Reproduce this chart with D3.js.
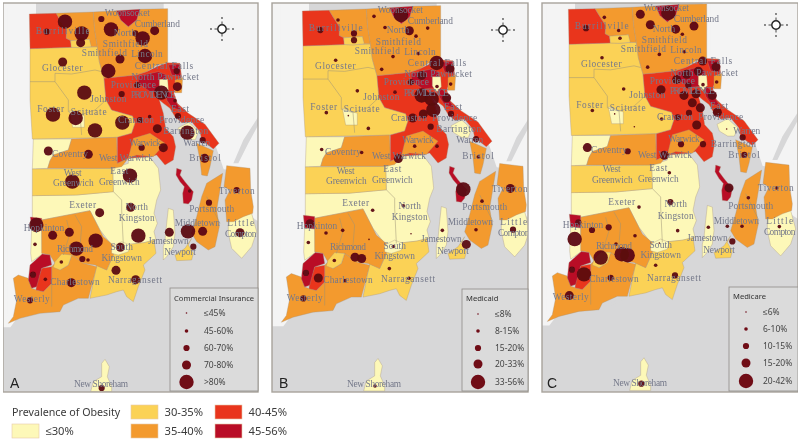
<!DOCTYPE html>
<html>
<head>
<meta charset="utf-8">
<script src="https://d3js.org/d3.v7.min.js"></script>
<style>
  html, body { margin: 0; padding: 0; background: #fff; }
  svg { display: block; }
</style>
</head>
<body>
<div id="my_dataviz"></div>
<script>
// obesity classes, lightest first
var obesityClasses = ["≤30%", "30-35%", "35-40%", "40-45%", "45-56%"];
var obesityColors = ["#fdf8b8", "#fbd257", "#f39a2e", "#e9341d", "#b90f27"];

// tract outlines, all in one map unit system (3 units = 1px)
var tractsLe30 = [
  [[97,587],[230,585],[340,575],[338,505],[385,490],[385,472],[450,472],[475,505],[482,570],[470,600],[462,640],[472,670],[462,695],[468,720],[432,728],[370,735],[335,735],[300,690],[270,632],[125,660],[97,660]],
  [[95,688],[125,692],[127,762],[95,785],[92,760]],
  [[685,660],[755,640],[770,695],[755,740],[725,775],[695,745],[685,700]],
  [[505,625],[520,630],[525,700],[520,740],[500,770],[490,780],[490,740],[495,720],[500,670]],
  [[305,1090],[315,1078],[328,1100],[322,1130],[335,1160],[335,1175],[272,1175],[280,1145],[305,1130]],
  [[100,417],[215,417],[205,450],[160,465],[150,482],[143,505],[97,507]]
];
var tractsP30 = [
  [[90,146],[214,142],[240,143],[292,140],[298,185],[312,235],[318,300],[335,330],[398,348],[405,370],[395,400],[350,412],[97,417],[90,300]],
  [[97,507],[338,505],[340,575],[230,585],[97,587]],
  [[290,795],[320,810],[340,765],[345,740],[370,735],[432,728],[462,720],[468,760],[430,795],[435,810],[415,860],[400,905],[380,890],[370,870],[350,875],[320,885],[270,895]],
  [[575,715],[565,735],[580,760],[575,780],[530,782],[525,765],[555,745]]
];
var tractsP35 = [
  [[168,40],[280,36],[284,90],[292,140],[272,140],[268,118],[212,122],[198,115],[200,90],[180,60]],
  [[280,36],[350,32],[362,60],[385,80],[410,60],[420,28],[503,26],[503,188],[470,195],[440,215],[410,225],[345,232],[312,235],[298,185],[292,140],[284,90]],
  [[215,417],[350,412],[352,490],[385,475],[365,500],[338,505],[143,505],[150,482],[160,465],[205,450]],
  [[590,430],[640,452],[630,500],[622,528],[605,525],[600,480]],
  [[680,497],[750,505],[752,570],[760,620],[758,640],[730,650],[700,665],[680,665],[675,600],[690,570],[672,560]],
  [[620,550],[668,520],[660,570],[650,630],[658,680],[645,740],[625,750],[590,725],[575,700],[590,650],[605,590]],
  [[125,660],[270,632],[310,710],[345,740],[340,765],[320,810],[285,795],[250,790],[215,765],[190,765],[165,790],[150,765],[125,760]],
  [[25,970],[40,950],[50,900],[40,835],[55,825],[85,835],[95,865],[110,870],[130,875],[155,850],[155,800],[165,790],[180,810],[205,795],[215,765],[250,790],[290,800],[265,895],[235,895],[190,915],[180,935],[120,940],[60,955]]
];
var tractsP40 = [
  [[88,42],[168,40],[180,60],[200,90],[198,115],[212,122],[214,142],[90,146]],
  [[312,235],[345,232],[410,225],[440,215],[470,200],[503,188],[540,190],[545,232],[530,245],[522,280],[532,310],[565,340],[615,373],[657,430],[640,447],[605,420],[600,395],[575,365],[545,368],[525,350],[510,325],[490,310],[478,300],[490,340],[497,385],[520,410],[527,440],[520,480],[495,495],[470,465],[450,470],[385,475],[352,490],[352,412],[395,400],[405,370],[398,348],[335,330],[318,300]],
  [[125,805],[155,800],[155,850],[130,875],[108,870],[110,850]]
];
var tractsP45 = [
  [[350,32],[420,28],[410,60],[385,80],[362,60]],
  [[415,228],[475,215],[500,225],[490,270],[450,275],[415,250]],
  [[495,265],[518,285],[532,312],[545,332],[515,322],[500,300]],
  [[505,195],[538,192],[542,230],[515,225]],
  [[530,505],[545,510],[540,525],[555,545],[580,575],[575,600],[565,612],[550,610],[548,580],[553,560],[540,545],[528,525]],
  [[91,651],[125,655],[125,692],[95,688]],
  [[127,762],[150,765],[155,795],[125,805],[110,860],[95,865],[85,840],[90,795]]
];
// small tracts that sit inside a bigger one
var insetsLe30 = [
  [[208,332],[253,347],[253,382],[218,382]],
  [[478,238],[503,238],[505,268],[490,285],[478,265]],
  [[534,384],[566,367],[596,394],[586,419],[566,419],[541,404]],
  [[335,740],[365,725],[390,735],[385,755],[355,765],[335,760]]
];
var insetsP30 = [
  [[212,122],[268,118],[274,140],[240,143],[214,142]],
  [[185,762],[215,765],[205,795],[180,810],[160,802],[165,785]]
];
var insetsP35 = [
  [[400,415],[450,400],[495,430],[460,470],[410,465],[385,475]],
  [[525,240],[548,233],[545,278],[525,278]]
];
var tractLayers = [
  [tractsLe30, 0], [tractsP30, 1], [tractsP35, 2], [tractsP40, 3], [tractsP45, 4],
  [insetsLe30, 0], [insetsP30, 1], [insetsP35, 2]
];

// thin town borders inside a colour
var townBorders = [
  [[90,245],[165,245]],
  [[165,245],[165,220],[215,222],[285,210],[305,215]],
  [[165,245],[205,300],[205,335],[240,345],[285,330],[318,300]],
  [[240,345],[245,405]],
  [[200,660],[210,700],[190,765]],
  [[225,645],[245,680],[240,740]],
  [[155,850],[155,920]],
  [[620,590],[660,670]],
  [[365,630],[370,735]],
  [[340,575],[365,600],[365,630]]
];

// neighbouring states, and water cut out of the land
var neighbours = [
  [[10,10],[96,10],[96,790],[88,840],[55,825],[40,835],[50,900],[40,950],[25,970],[10,970]],
  [[503,10],[775,10],[775,650],[760,640],[750,505],[680,497],[657,430],[615,373],[565,340],[532,310],[522,280],[530,245],[545,232],[540,190],[503,188]]
];
var inlets = [
  [[775,350],[730,420],[700,490],[715,490],[745,430],[775,375]],
  [[180,930],[265,892],[270,898],[190,938]],
  [[375,860],[390,850],[398,900],[385,890]]
];

var townLabels = [
  ["Woonsocket",382,38],["Cumberland",472,72],["Burrillville",188,93],["North",375,100],
  ["Smithfield",376,133],["Smithfield",313,160],["Lincoln",441,163],["Glocester",187,205],
  ["Central Falls",492,197],["North Pawtucket",495,230],["Providence",400,255],["Johnston",325,297],
  ["PROVIDENCE",460,285],["Foster",152,327],["Scituate",266,335],["East",540,328],
  ["Cranston",408,361],["Providence",545,361],["Warwick",435,428],["Coventry",210,461],
  ["West Warwick",378,474],["Bristol",615,475],["West",218,518],["Greenwich",220,548],
  ["East",358,513],["Greenwich",358,545],["Tiverton",710,572],["Exeter",248,614],
  ["North",410,622],["Kingston",410,655],["Portsmouth",635,627],["Hopkinton",132,684],
  ["Middletown",592,670],["Little",722,670],["Compton",722,703],["Jamestown",505,722],
  ["Richmond",225,747],["South",365,742],["Kingstown",365,773],["Newport",540,757],
  ["Charlestown",225,845],["Narragansett",405,841],["Westerly",95,898],["New Shoreham",303,1153]
];
var labelsAB = [["Barrington",557,393],["Warren",590,428]];
var labelsC = [["Warren",623,403],["Barrington",583,441]];

// [x, y, percent of patients in the tract]
var commercialPoints = [
  [195,65,85],[304,57,65],[333,88,85],[245,100,85],[242,128,75],[140,95,65],[464,92,75],[428,115,85],
  [406,100,60],[435,168,85],[360,177,75],[188,186,75],[325,213,85],[253,278,85],[365,282,65],[159,344,85],
  [227,354,85],[285,391,85],[367,368,85],[145,453,75],[265,463,75],[425,443,65],[390,527,85],[217,545,85],
  [490,443,75],[472,386,75],[420,360,65],[449,350,50],[484,278,85],[532,260,75],[530,213,65],[412,255,65],
  [525,302,50],[534,348,65],[562,398,85],[608,420,65],[614,475,75],[569,573,50],[710,570,65],[627,608,65],
  [392,622,75],[299,638,75],[109,675,85],[105,733,50],[158,706,75],[208,697,75],[287,722,85],[229,746,85],
  [361,742,75],[415,707,85],[508,697,75],[564,694,85],[608,694,75],[720,698,75],[580,740,65],[247,777,65],
  [264,780,50],[184,786,50],[348,811,75],[407,839,75],[214,848,75],[99,824,65],[136,838,50],[90,901,65],
  [305,1164,65]
];
var medicaidPoints = [
  [195,69,12],[303,58,12],[384,54,45],[336,91,12],[464,93,12],[409,101,25],[429,117,12],[243,109,18],
  [243,129,18],[142,99,18],[436,169,12],[360,178,12],[188,189,12],[326,216,12],[253,280,12],[366,284,12],
  [160,345,12],[226,354,5],[286,392,12],[419,361,25],[414,254,18],[491,197,45],[531,214,25],[446,234,25],
  [492,267,12],[533,260,12],[446,294,45],[476,304,45],[481,337,45],[451,349,25],[521,301,25],[534,349,18],
  [473,387,18],[425,445,12],[492,445,12],[609,424,18],[616,477,12],[266,464,12],[146,455,12],[376,482,25],
  [571,574,45],[712,571,25],[299,636,12],[391,623,12],[627,609,12],[111,676,25],[159,704,12],[209,696,12],
  [106,732,12],[288,723,5],[361,744,12],[414,706,5],[508,696,12],[609,694,12],[720,694,18],[580,738,25],
  [184,786,12],[246,776,25],[266,780,25],[349,810,12],[408,839,12],[216,846,12],[99,823,18],[136,838,25],
  [91,899,18],[306,1160,12]
];
var medicarePoints = [
  [196,66,8],[304,57,17],[388,53,30],[334,88,17],[465,92,17],[410,101,17],[430,116,8],[243,128,8],
  [239,105,8],[141,98,12],[436,168,8],[361,176,8],[189,186,8],[326,214,8],[254,279,8],[366,281,17],
  [160,343,8],[227,353,4],[286,391,4],[368,368,8],[491,196,17],[531,213,17],[443,235,17],[478,226,17],
  [492,266,8],[533,258,8],[413,251,17],[448,268,12],[435,298,17],[471,293,17],[520,298,17],[460,320,17],
  [484,335,17],[535,348,17],[450,350,12],[416,363,12],[473,386,17],[563,398,4],[611,423,12],[616,475,12],
  [426,443,12],[492,443,12],[376,476,17],[145,453,17],[266,464,12],[391,528,8],[570,573,17],[713,573,8],
  [628,602,8],[300,630,8],[394,615,12],[118,675,12],[159,698,12],[209,690,12],[107,725,30],[288,715,8],
  [416,700,8],[508,690,8],[565,687,8],[609,687,8],[721,688,8],[580,732,12],[231,740,8],[361,737,4],
  [185,780,30],[248,770,30],[266,773,30],[350,803,8],[408,833,12],[215,840,12],[99,816,12],[135,830,30],
  [91,893,17],[307,1155,12]
];

var commercialBreaks = [45, 60, 70, 80];
var medicaidBreaks = [8, 15, 20, 33];
var medicareBreaks = [6, 10, 15, 20];
var commercialTicks = ["≤45%", "45-60%", "60-70%", "70-80%", ">80%"];
var medicaidTicks = ["≤8%", "8-15%", "15-20%", "20-33%", "33-56%"];
var medicareTicks = ["≤6%", "6-10%", "10-15%", "15-20%", "20-42%"];
var bubbleRadii = [0.8, 1.8, 3.1, 4.5, 7.2];

// where each panel sits on the page
var panels = [
  {letter: "A", title: "Commercial Insurance", points: commercialPoints, breaks: commercialBreaks, ticks: commercialTicks, labels: labelsAB,
   frame: [3, 258], xr: [0, 270], yr: [14, 384], box: [170, 288, 258, 391], titleX: 174, titleY: 298, dotX: 186.5, textX: 204,
   rows: [313, 331, 348, 365, 382], compass: [222, 29], letterX: 10},
  {letter: "B", title: "Medicaid", points: medicaidPoints, breaks: medicaidBreaks, ticks: medicaidTicks, labels: labelsAB,
   frame: [272, 528], xr: [273, 543], yr: [11, 383.3], box: [462, 289, 528, 391], titleX: 466, titleY: 298, dotX: 478, textX: 495,
   rows: [314, 331, 348, 364, 382], compass: [503, 30], letterX: 279},
  {letter: "C", title: "Medicare", points: medicarePoints, breaks: medicareBreaks, ticks: medicareTicks, labels: labelsC,
   frame: [542, 798], xr: [539, 809], yr: [9.3, 382.7], box: [729, 287, 798, 391], titleX: 733, titleY: 296, dotX: 746, textX: 763,
   rows: [312, 329, 346, 363, 381], compass: [776, 25], letterX: 547}
];

var width = 800, height = 440;
var uiFont = "'Noto Sans', sans-serif";

var svg = d3.select("#my_dataviz")
  .append("svg")
    .attr("width", width)
    .attr("height", height);

// the source is a soft scan
svg.append("defs").append("filter")
    .attr("id", "soft")
    .attr("x", 0).attr("y", 0).attr("width", 1).attr("height", 1)
  .append("feGaussianBlur")
    .attr("stdDeviation", 0.4);

var root = svg.append("g").attr("filter", "url(#soft)");

panels.forEach(function (p, i) {
  var x = d3.scaleLinear().domain([0, 810]).range(p.xr);
  var y = d3.scaleLinear().domain([42, 1152]).range(p.yr);
  var r = d3.scaleThreshold().domain(p.breaks).range(bubbleRadii);
  var line = d3.line().x(function (d) { return x(d[0]); }).y(function (d) { return y(d[1]); });
  var area = function (d) { return line(d) + "Z"; };

  var clipId = "clip" + i;
  svg.select("defs").append("clipPath").attr("id", clipId)
    .append("rect")
      .attr("x", p.frame[0]).attr("y", 3)
      .attr("width", p.frame[1] - p.frame[0]).attr("height", 389);

  var g = root.append("g");
  g.append("rect")
      .attr("x", p.frame[0]).attr("y", 3)
      .attr("width", p.frame[1] - p.frame[0]).attr("height", 389)
      .style("fill", "#d7d7d8");

  var map = g.append("g").attr("clip-path", "url(#" + clipId + ")");

  map.selectAll(".neighbour")
    .data(neighbours)
    .enter()
    .append("path")
      .attr("class", "neighbour")
      .attr("d", area)
      .style("fill", "#f4f4f4")
      .style("stroke", "#f4f4f4")
      .style("stroke-width", 8);

  map.selectAll(".inlet")
    .data(inlets)
    .enter()
    .append("path")
      .attr("class", "inlet")
      .attr("d", area)
      .style("fill", "#d7d7d8");

  // tracts
  tractLayers.forEach(function (layer) {
    map.append("g")
      .selectAll("path")
      .data(layer[0])
      .enter()
      .append("path")
        .attr("d", area)
        .style("fill", obesityColors[layer[1]])
        .style("stroke", "#a5927a")
        .style("stroke-width", 0.35);
  });

  map.append("g")
    .selectAll("path")
    .data(townBorders)
    .enter()
    .append("path")
      .attr("d", line)
      .style("fill", "none")
      .style("stroke", "#9c9276")
      .style("stroke-width", 0.5);

  // graduated circles
  map.append("g")
    .selectAll("circle")
    .data(p.points)
    .enter()
    .append("circle")
      .attr("cx", function (d) { return x(d[0]); })
      .attr("cy", function (d) { return y(d[1]); })
      .attr("r", function (d) { return r(d[2]); })
      .style("fill", "#5c0711")
      .style("fill-opacity", 0.95);

  // town names, the source font is half-width so every letter gets the same room
  map.append("g")
    .selectAll("text")
    .data(townLabels.concat(p.labels))
    .enter()
    .append("text")
      .attr("x", function (d) { return x(d[1]); })
      .attr("y", function (d) { return y(d[2]); })
      .attr("dy", "0.32em")
      .attr("text-anchor", "middle")
      .attr("textLength", function (d) { return d[0].length * 4.5; })
      .attr("lengthAdjust", "spacing")
      .style("font-family", "'Liberation Serif', serif")
      .style("font-size", "9.4px")
      .style("fill", "#75798a")
      .text(function (d) { return d[0]; });

  // frame
  g.append("rect")
      .attr("x", p.frame[0]).attr("y", 3)
      .attr("width", p.frame[1] - p.frame[0]).attr("height", 389)
      .style("fill", "none")
      .style("stroke", "#a8a39c")
      .style("stroke-width", 1.4);

  // bubble legend
  var box = p.box;
  var legend = g.append("g");
  legend.append("rect")
      .attr("x", box[0]).attr("y", box[1])
      .attr("width", box[2] - box[0]).attr("height", box[3] - box[1])
      .style("fill", "#dbdbdb")
      .style("stroke", "#8f8c88")
      .style("stroke-width", 0.8);
  legend.append("text")
      .attr("x", p.titleX).attr("y", p.titleY)
      .attr("dy", "0.35em")
      .style("font-family", uiFont)
      .style("font-size", "7.6px")
      .style("fill", "#333")
      .text(p.title);
  legend.selectAll("circle")
    .data(bubbleRadii)
    .enter()
    .append("circle")
      .attr("cx", p.dotX)
      .attr("cy", function (d, j) { return p.rows[j]; })
      .attr("r", function (d) { return d; })
      .style("fill", "#6f0a17");
  legend.selectAll(".tick")
    .data(p.ticks)
    .enter()
    .append("text")
      .attr("class", "tick")
      .attr("x", p.textX)
      .attr("y", function (d, j) { return p.rows[j]; })
      .attr("dy", "0.35em")
      .style("font-family", uiFont)
      .style("font-size", "8.5px")
      .style("fill", "#444")
      .text(function (d) { return d; });

  // compass
  var c = g.append("g").attr("transform", "translate(" + p.compass[0] + "," + p.compass[1] + ")");
  c.append("circle").attr("r", 4.2)
      .style("fill", "#fff").style("stroke", "#222").style("stroke-width", 1.4);
  [0, 90, 180, 270].forEach(function (a) {
    var arm = c.append("g").attr("transform", "rotate(" + a + ")");
    arm.append("line").attr("y1", -4).attr("y2", -7.5)
        .style("stroke", "#333").style("stroke-width", 0.9);
    arm.append("circle").attr("cy", -11).attr("r", 0.9).style("fill", "#555");
  });

  // panel letter
  g.append("text")
      .attr("x", p.letterX)
      .attr("y", 388)
      .style("font-family", "'Liberation Sans', sans-serif")
      .style("font-size", "14px")
      .style("fill", "#222")
      .text(p.letter);
});

// obesity legend at the bottom
var keyX = [12, 131, 131, 215, 215];
var keyY = [424, 405, 424, 405, 424];
var key = root.append("g");
key.append("text")
    .attr("x", 12).attr("y", 412)
    .attr("dy", "0.35em")
    .style("font-family", uiFont)
    .style("font-size", "10.7px")
    .style("fill", "#3a3a3a")
    .text("Prevalence of Obesity");
key.selectAll("rect")
  .data(obesityClasses)
  .enter()
  .append("rect")
    .attr("x", function (d, i) { return keyX[i]; })
    .attr("y", function (d, i) { return keyY[i]; })
    .attr("width", 27)
    .attr("height", 14)
    .style("fill", function (d, i) { return obesityColors[i]; })
    .style("stroke", "#e6c9a8")
    .style("stroke-width", 0.6);
key.selectAll(".cls")
  .data(obesityClasses)
  .enter()
  .append("text")
    .attr("class", "cls")
    .attr("x", function (d, i) { return keyX[i] + 33.5; })
    .attr("y", function (d, i) { return keyY[i] + 7.5; })
    .attr("dy", "0.35em")
    .style("font-family", uiFont)
    .style("font-size", "11.2px")
    .style("fill", "#3a3a3a")
    .text(function (d) { return d; });
</script>
</body>
</html>
